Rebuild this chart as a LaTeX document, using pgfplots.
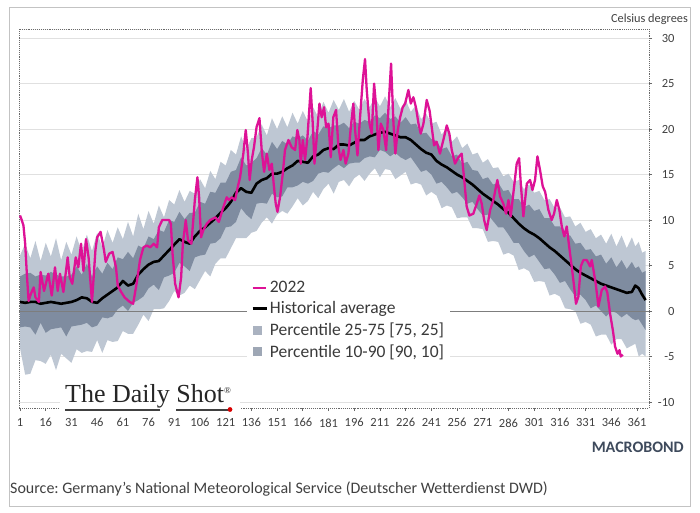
\documentclass[border=0pt]{standalone}
\usepackage{fontspec}
\setmainfont{Carlito}
\newfontfamily\logofont{Liberation Serif}
\usepackage{pgfplots}
\usepackage{pgfplotstable}
\pgfplotsset{compat=1.18}
\usepgfplotslibrary{fillbetween}
\definecolor{mag}{RGB}{221,18,150}
\definecolor{lightband}{RGB}{190,199,211}
\definecolor{darkband}{RGB}{127,140,160}
\definecolor{legsqa}{RGB}{170,178,192}
\definecolor{legsqb}{RGB}{158,167,181}
\definecolor{gridc}{RGB}{224,224,224}
\definecolor{zeroc}{RGB}{125,125,125}
\definecolor{txt}{RGB}{64,64,64}
\definecolor{legtxt}{RGB}{58,58,58}
\definecolor{framec}{RGB}{195,195,195}
\definecolor{dotc}{RGB}{105,105,105}
\definecolor{macrob}{RGB}{62,74,92}
\pagecolor{white}

\pgfplotstableread{
d avg p10 p25 p75 p90
1 1.0 -4.1 -1.8 3.8 6.1
4 0.9 -7.0 -1.7 4.1 7.4
7 1.0 -6.9 -1.8 4.2 5.8
10 1.0 -5.4 -2.6 3.8 7.7
13 0.8 -5.5 -1.3 4.0 5.5
16 0.9 -5.8 -2.4 3.9 7.5
19 1.0 -4.8 -2.0 4.3 6.0
22 0.9 -6.5 -1.9 4.0 8.0
25 0.8 -4.7 -1.8 3.8 5.6
28 0.9 -5.2 -2.8 3.8 7.6
31 1.0 -5.7 -1.7 4.0 6.2
34 1.2 -4.2 -1.6 4.9 8.2
37 1.5 -4.6 -1.5 4.0 6.5
40 1.4 -4.4 -1.3 5.2 8.4
43 1.0 -4.5 -1.8 3.8 6.6
46 0.9 -3.2 -1.6 4.9 8.6
49 1.4 -4.6 -0.7 4.1 7.0
52 1.8 -3.2 -0.8 5.3 8.9
55 2.2 -3.4 -0.6 4.6 7.5
58 2.6 -3.3 0.2 5.9 9.2
61 3.3 -2.2 0.6 5.7 7.9
64 2.8 -2.5 0.0 6.5 9.8
67 3.0 -2.5 0.9 5.8 8.2
70 4.0 -1.5 1.2 7.2 10.7
73 4.6 -0.4 1.6 6.9 9.0
76 5.1 -1.1 2.5 8.2 11.0
79 5.4 0.2 2.9 7.9 9.6
82 5.5 0.2 2.3 8.9 11.6
85 6.1 0.3 3.7 8.7 10.3
88 6.7 1.1 3.9 10.0 12.2
91 7.3 2.2 4.2 9.8 11.7
94 7.9 1.7 5.3 10.9 13.3
97 7.6 2.0 4.9 10.1 12.0
100 7.4 2.8 4.4 10.8 13.2
103 8.2 2.4 5.9 10.8 12.9
106 8.8 3.4 6.1 12.0 14.5
109 9.2 4.4 6.2 11.8 13.5
112 9.7 3.8 7.4 13.1 15.4
115 10.2 5.2 7.5 13.0 14.5
118 10.8 5.8 8.0 14.1 16.4
121 11.3 5.8 9.2 14.1 16.0
124 12.0 6.9 9.3 15.3 17.7
127 13.0 8.0 9.8 15.5 17.2
130 13.5 8.0 11.3 16.9 19.2
133 13.1 8.0 10.6 16.0 17.8
136 13.0 8.6 10.1 16.3 19.0
139 14.0 8.8 11.8 16.8 19.1
142 14.4 9.7 11.9 17.9 20.5
145 14.6 10.3 11.8 17.2 19.3
148 15.1 9.6 12.9 18.6 21.2
151 15.1 10.6 12.5 17.8 20.0
154 15.3 11.0 12.6 18.7 21.4
157 15.7 10.7 13.6 18.3 20.2
160 16.0 11.5 13.6 19.2 21.8
163 16.5 12.4 13.8 19.0 20.6
166 16.4 11.6 14.2 19.3 22.0
169 16.3 12.1 14.0 18.7 20.8
172 17.0 13.1 14.3 19.8 22.4
175 17.2 12.4 15.1 19.4 21.3
178 17.7 13.4 15.3 20.3 23.0
181 17.9 14.0 15.2 20.1 21.8
184 17.8 12.9 15.7 20.4 23.2
187 18.3 14.2 16.1 20.4 22.1
190 18.3 14.4 15.7 20.7 23.3
193 18.2 13.7 16.2 20.1 21.9
196 18.5 14.6 16.3 20.8 23.1
199 18.8 15.0 16.3 20.6 22.1
202 18.8 14.3 16.8 21.0 23.3
205 19.2 15.1 17.0 20.8 22.4
208 19.4 15.7 16.9 21.5 23.5
211 19.6 14.7 17.7 21.2 22.5
214 19.7 15.6 17.5 21.8 23.6
217 19.5 15.5 17.0 21.1 22.4
220 19.3 14.5 17.4 21.4 23.4
223 19.1 14.9 16.9 20.7 22.2
226 19.1 15.3 16.6 21.3 23.2
229 18.8 13.9 16.9 20.5 21.9
232 18.3 14.1 16.1 20.6 22.6
235 17.8 13.9 15.3 19.5 21.1
238 17.4 12.7 15.5 19.6 21.7
241 17.2 13.1 15.0 18.9 20.6
244 16.5 12.7 14.0 18.7 20.8
247 16.1 11.3 14.2 17.8 19.4
250 15.8 11.6 13.6 18.0 20.1
253 15.4 11.4 12.9 17.0 18.6
256 15.0 10.2 13.1 17.2 19.2
259 14.7 10.3 12.5 16.2 17.9
262 14.3 10.3 11.8 16.4 18.4
265 13.9 9.1 12.0 15.5 17.2
268 13.4 9.1 11.2 15.4 17.4
271 12.9 9.0 10.5 14.5 16.3
274 12.5 7.6 10.6 14.7 16.7
277 12.1 7.7 9.9 13.9 15.7
280 11.7 7.6 9.2 14.1 15.8
283 11.2 6.2 9.2 13.2 14.8
286 10.8 6.4 8.4 13.3 15.1
289 10.2 6.1 7.5 12.3 14.2
292 9.6 4.5 7.5 12.3 14.4
295 9.1 4.7 6.6 11.4 13.4
298 8.7 4.4 5.9 11.7 13.9
301 8.4 3.2 6.2 11.0 13.0
304 8.0 3.3 5.4 11.2 13.2
307 7.5 3.2 4.6 10.2 12.2
310 7.0 1.7 4.7 10.2 12.3
313 6.6 1.9 4.0 9.3 11.3
316 6.1 1.6 3.1 9.3 11.4
319 5.6 0.3 3.3 8.4 10.3
322 5.1 0.2 2.4 8.3 10.4
325 4.6 0.0 1.6 7.4 9.3
328 4.2 -1.4 1.8 7.5 9.7
331 3.9 -1.2 1.2 6.7 8.7
334 3.6 -1.5 0.3 6.8 9.0
337 3.3 -2.8 0.6 6.0 8.0
340 3.0 -2.6 0.0 6.2 8.4
343 2.8 -2.6 -0.6 5.2 7.4
346 2.6 -3.7 0.0 5.9 8.5
349 2.4 -3.1 -0.2 4.8 7.1
352 2.2 -3.1 -0.7 5.6 8.3
355 2.0 -4.1 -0.3 4.6 6.9
358 2.1 -3.8 -0.8 5.4 8.1
360 2.8 -3.6 -1.0 4.7 7.1
362 2.5 -5.0 -0.9 4.9 7.6
364 1.8 -4.7 -1.5 4.2 6.4
366 1.2 -5.0 -2.1 4.4 6.6
}\bands

\pgfplotstableread{
d t
1 10.5
2 10.0
3 9.4
4 7.4
5 4.0
6 1.1
7 1.7
8 2.2
9 2.6
10 1.5
12 1.0
13 4.3
15 2.2
17.5 4.1
19.5 1.7
21.4 4.8
23 2.2
24.3 4.1
26.3 2.1
28.8 5.9
30 3.7
31.5 3.0
33.5 5.9
35 4.8
36.6 7.4
38 4.4
39.5 7.9
41 5.9
43 1.0
45 6.7
46 8.1
48 8.7
50 6.7
51 5.4
53 6.3
55 6.5
57 4.8
58 2.8
60 2.1
62 1.5
65 1.0
67 0.8
69 3.0
71 5.6
73 7.0
75 7.2
77 7.0
79 7.4
81 7.0
82 9.2
84 10.0
88 10.0
89 9.6
90 6.3
91.5 3.0
93.5 1.5
95 3.7
96 7.4
97.7 10.0
99 7.8
101 7.4
103 12.2
104.5 14.7
105.5 12.5
106.6 8.1
108 8.9
110 9.6
112 10.0
115 10.3
117 9.8
119.6 11.4
121.6 12.5
123 12.2
124.5 12.5
126.5 12.2
128 13.6
129.4 14.7
131.3 17.3
132.7 19.9
134 17.3
135 14.4
136.2 16.6
137.5 18.0
139 20.2
140.7 21.2
142 17.7
143.4 15.3
145 17.3
146.5 15.5
147.9 16.2
149 14.0
150.2 11.8
151.2 10.9
152.7 12.5
154.3 15.1
155.6 17.7
157.6 18.8
159.5 18.0
161.5 17.7
162.8 19.9
164 18.8
164.8 16.2
166 18.8
167.3 16.6
168.7 19.1
170.6 24.5
171.8 20.6
172.8 16.2
174 18.8
175.7 22.8
177 21.3
178.4 22.4
179.6 20.2
181 20.6
182.3 16.9
183.8 21.3
185.4 22.1
186.8 18.0
188 16.6
189.7 17.7
191 16.2
192.6 17.3
194 20.2
195.5 22.8
196.5 19.9
197.9 17.1
199.4 21.3
201 25.4
202.3 27.7
203.3 24.3
204.9 20.6
206.2 19.5
207.6 25.0
208.8 22.4
210.1 17.7
211.5 20.6
213 19.9
214.6 17.7
216 22.4
217.5 27.2
218.9 20.6
220 17.3
221.4 19.9
222.8 21.3
224.3 22.4
225.7 22.8
227.6 24.3
229 22.8
230.5 23.5
232 22.4
233.5 20.6
234.8 19.5
236.4 20.6
238.3 23.2
240 22.0
241.5 19.8
242.6 18.2
244.1 18.6
246 17.3
248 18.8
250 20.4
251.5 19.5
252.9 17.7
254.8 16.2
256.8 16.9
258.7 17.3
260 14.8
261.6 11.5
263.2 10.5
265.5 10.7
267.5 11.8
269 12.7
270.4 11.8
271.8 10.0
273.3 8.9
275.3 11.1
277.2 12.2
279.5 14.4
281.1 12.6
283 11.8
284.6 10.7
286 12.2
287.3 10.4
289.3 13.7
290.8 16.2
292.2 16.8
293.3 13.7
294.7 10.4
296.7 14.0
298.6 14.4
300 13.3
301.5 14.4
302.9 17.0
304.4 15.5
306 13.7
307.4 13.1
309.3 11.1
311.2 10.0
312.6 10.7
314.2 12.2
315.7 11.1
317.1 9.3
318.6 8.2
320 9.3
321.4 7.1
322.9 4.9
324.3 2.7
325.4 0.8
326.8 1.6
328.2 4.9
329.7 5.6
331.7 5.6
333.6 4.9
334.6 5.6
335.6 4.5
336.9 3.0
338.5 0.5
340.4 2.3
342.4 2.7
343.7 2.0
345.3 -0.3
346.9 -2.1
348.2 -3.9
349.6 -4.7
350.8 -4.3
351.5 -5.0
352.7 -4.8
}\yrtwo

\begin{document}
\frenchspacing
\begin{tikzpicture}[x=1pt,y=1pt]
\path (0,0) rectangle (700,512);
\draw[framec, line width=1pt] (9.5,6) rectangle (690,504);
\begin{axis}[
  at={(19pt,104pt)}, anchor=south west,
  scale only axis, width=630pt, height=379pt,
  xmin=0.4, xmax=368, ymin=-10.66, ymax=31,
  axis line style={dotc, densely dotted, line width=0.9pt},
  xtick={1,16,...,361},
  xticklabels={1,16,31,46,61,76,91,106,121,136,151,166,181,196,211,226,241,256,271,286,301,316,331,346,361},
  ytick={-10,-5,...,30},
  yticklabels={-10,-5,0,5,10,15,20,25,30},
  xtick pos=bottom, ytick pos=right, yticklabel pos=right,
  tick align=outside, major tick length=3pt,
  tick style={dotc, line width=0.8pt, solid},
  ticklabel style={font=\fontsize{12.5}{14}\selectfont, text=txt},
  xticklabel style={yshift=-4pt},
  yticklabel style={anchor=east, xshift=26pt},
  ymajorgrids, grid style={gridc, line width=0.8pt, solid},
  legend style={at={(rel axis cs:0.362,0.345)}, anchor=north west, draw=none, fill=white,
    font=\fontsize{17.5}{20}\selectfont, text=legtxt,
    inner xsep=4pt, inner ysep=2pt, row sep=3.5pt},
  legend cell align=left,
]
\addlegendimage{legend image code/.code={\draw[mag, line width=2.3pt] (0pt,0pt) -- (13pt,0pt);}}
\addlegendentry{2022}
\addlegendimage{legend image code/.code={\draw[black, line width=2.6pt] (0pt,0pt) -- (14pt,0pt);}}
\addlegendentry{Historical average}
\addlegendimage{legend image code/.code={\fill[legsqa] (0.5pt,-4pt) rectangle (8.5pt,4pt);}}
\addlegendentry{Percentile 25-75 [75, 25]}
\addlegendimage{legend image code/.code={\fill[legsqb] (0.5pt,-4pt) rectangle (8.5pt,4pt);}}
\addlegendentry{Percentile 10-90 [90, 10]}

\addplot[draw=none, name path=p90, forget plot] table[x=d, y=p90] {\bands};
\addplot[draw=none, name path=p10, forget plot] table[x=d, y=p10] {\bands};
\addplot[draw=none, name path=p75, forget plot] table[x=d, y=p75] {\bands};
\addplot[draw=none, name path=p25, forget plot] table[x=d, y=p25] {\bands};
\addplot[fill=lightband, draw=none, forget plot] fill between[of=p90 and p10];
\addplot[fill=darkband, draw=none, forget plot] fill between[of=p75 and p25];
\draw[zeroc, line width=0.9pt] (axis cs:0.4,0) -- (axis cs:368,0);
\addplot[black, line width=2.6pt, line join=round, forget plot] table[x=d, y=avg] {\bands};
\addplot[mag, line width=2.3pt, line join=round, forget plot] table[x=d, y=t] {\yrtwo};
\end{axis}
% logo
\fill[white] (60,99) rectangle (240,136);
\node[anchor=base west, inner sep=0, font=\logofont\fontsize{26}{26}\selectfont, text=black!85] at (65,110)
  {The Daily Shot\raisebox{9pt}{\fontsize{9}{9}\selectfont\textregistered}};
\draw[black!75, line width=2pt] (65,102.5) -- (160,102.5);
\draw[black!75, line width=2pt] (176,102.5) -- (228,102.5);
\fill[red!85!black] (230,102.5) circle (2.4);
% texts
\node[anchor=base east, inner sep=0, font=\fontsize{12.3}{14}\selectfont, text=txt] at (688,489) {Celsius degrees};
\node[anchor=base east, inner sep=0, font=\bfseries\fontsize{16}{16}\selectfont, text=macrob] at (684,60) {MACROBOND};
\node[anchor=base west, inner sep=0, font=\fontsize{16}{18}\selectfont, text=txt] at (10,19)
  {Source: Germany's National Meteorological Service (Deutscher Wetterdienst DWD)};
\end{tikzpicture}
\end{document}
